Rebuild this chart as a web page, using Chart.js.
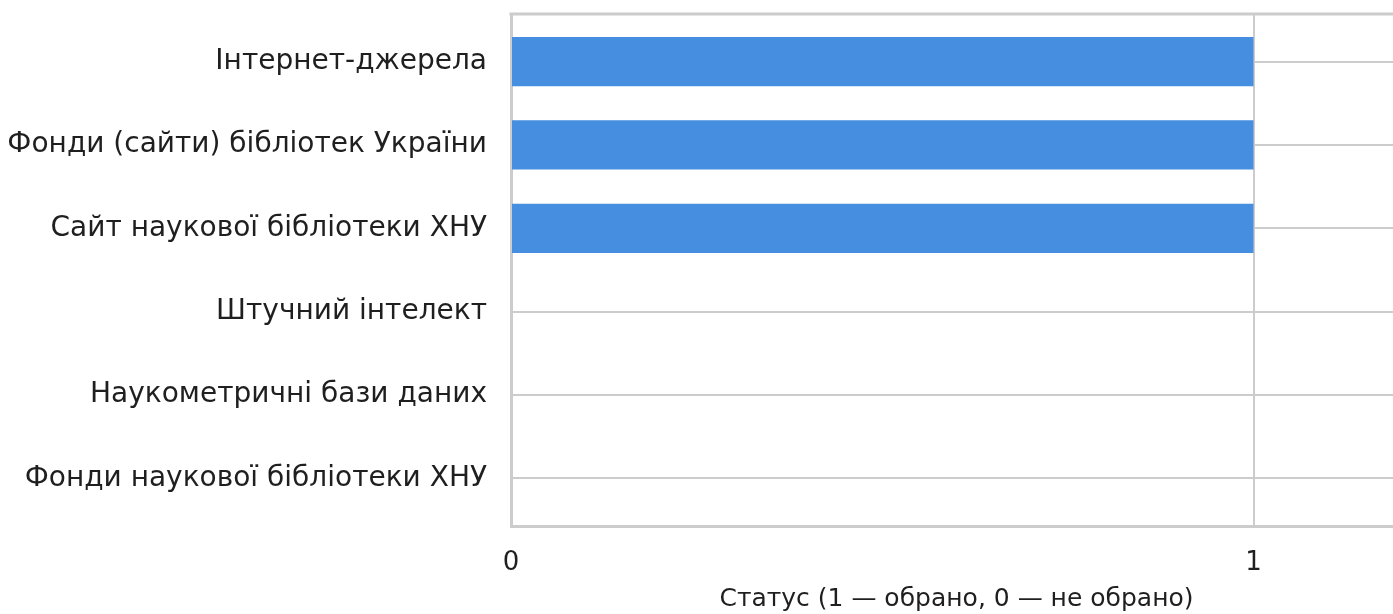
<!DOCTYPE html>
<html>
<head>
<meta charset="utf-8">
<script src="https://cdn.jsdelivr.net/npm/chart.js@4/dist/chart.umd.min.js"></script>
<style>
  html, body { margin: 0; padding: 0; background: #fff; overflow: hidden; }
  #wrap { width: 1393px; height: 614px; overflow: hidden; }
</style>
</head>
<body>
<div id="wrap"><canvas id="myChart" width="1402" height="614"></canvas></div>
<script>
// Kategorien und Werte
const categories = [
    'Інтернет-джерела',
    'Фонди (сайти) бібліотек України',
    'Сайт наукової бібліотеки ХНУ',
    'Штучний інтелект',
    'Наукометричні бази даних',
    'Фонди наукової бібліотеки ХНУ'
];
const statusValues = [1, 1, 1, 0, 0, 0];
const xTicks = [0, 1];
const xTitle = 'Статус (1 — обрано, 0 — не обрано)';

const gridColor = '#cccccc';

// obere Rahmenlinie
const topBorder = {
    id: 'topBorder',
    afterDraw(chart) {
        const { ctx, chartArea } = chart;
        ctx.save();
        ctx.strokeStyle = gridColor;
        ctx.lineWidth = 3;
        ctx.beginPath();
        ctx.moveTo(chartArea.left - 1.5, chartArea.top);
        ctx.lineTo(chartArea.right, chartArea.top);
        ctx.stroke();
        ctx.restore();
    }
};

// Balken als Punkte auf einer linearen y-Achse (für die Ränder oben/unten)
const barData = statusValues.map((v, i) => ({ x: v, y: i }));

const ctx = document.getElementById('myChart').getContext('2d');
new Chart(ctx, {
    type: 'bar',
    data: {
        datasets: [{
            data: barData,
            backgroundColor: '#468ee0',
            barPercentage: 0.59,
            categoryPercentage: 1.0
        }]
    },
    options: {
        indexAxis: 'y',
        responsive: false,
        animation: false,
        layout: { padding: { top: 14, right: 0, left: 0, bottom: 0 } },
        plugins: {
            legend: { display: false },
            tooltip: { enabled: false }
        },
        scales: {
            x: {
                type: 'linear',
                min: 0,
                max: 1.2,
                afterBuildTicks: scale => {
                    scale.ticks = xTicks.map(v => ({ value: v }));
                },
                afterFit: scale => {
                    scale.height = 88;
                    scale.paddingLeft = 0;
                    scale.paddingRight = 0;
                },
                ticks: {
                    color: '#1f1f1f',
                    font: { family: 'DejaVu Sans', size: 26 },
                    padding: 22
                },
                grid: {
                    color: c => (c.tick && xTicks.includes(c.tick.value)) ? gridColor : 'rgba(0,0,0,0)',
                    lineWidth: 2,
                    drawTicks: false
                },
                border: { color: gridColor, width: 3 },
                title: {
                    display: true,
                    text: xTitle,
                    color: '#1f1f1f',
                    font: { family: 'DejaVu Sans', size: 25 },
                    padding: { top: 0, bottom: 0 }
                }
            },
            y: {
                type: 'linear',
                reverse: true,
                offset: false,
                min: -0.57,
                max: categories.length - 1 + 0.57,
                afterBuildTicks: scale => {
                    scale.ticks = categories.map((c, i) => ({ value: i }));
                },
                afterFit: scale => {
                    scale.width = 511;
                    scale.paddingTop = 0;
                    scale.paddingBottom = 0;
                },
                ticks: {
                    color: '#1f1f1f',
                    font: { family: 'DejaVu Sans', size: 28 },
                    padding: 24,
                    callback: value => categories[value]
                },
                grid: { color: gridColor, lineWidth: 2, offset: false, drawTicks: false },
                border: { color: gridColor, width: 3 }
            }
        }
    },
    plugins: [topBorder]
});
</script>
</body>
</html>
